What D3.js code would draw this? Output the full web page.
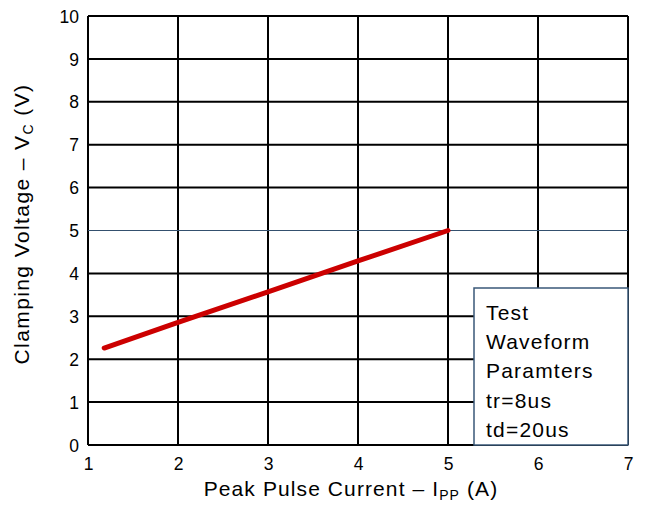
<!DOCTYPE html>
<html>
<head>
<meta charset="utf-8">
<script src="https://cdn.jsdelivr.net/npm/d3@7"></script>
<style>
  html, body { margin: 0; padding: 0; background: #fff; }
  svg { display: block; font-family: "Liberation Sans", Arial, sans-serif; }
</style>
</head>
<body>
<svg id="chart" width="646" height="507"></svg>
<script>
// Clamping voltage vs peak pulse current
const currentA = [1.18, 2, 3, 4, 5];
const clampV = [2.26, 2.86, 3.57, 4.29, 5.0];
const xTicks = [1, 2, 3, 4, 5, 6, 7];
const yTicks = [0, 1, 2, 3, 4, 5, 6, 7, 8, 9, 10];
const highlightV = 5;
const noteLines = ["Test", "Waveform", "Paramters", "tr=8us", "td=20us"];

const svg = d3.select("#chart");
const m = { left: 88, right: 628, top: 16, bottom: 445 };

const x = d3.scaleLinear().domain([1, 7]).range([m.left, m.right]);
const y = d3.scaleLinear().domain([0, 10]).range([m.bottom, m.top]);

// grid
const grid = svg.append("g");
grid.selectAll("line.v").data(xTicks).join("line")
  .attr("x1", d => x(d)).attr("x2", d => x(d))
  .attr("y1", m.top).attr("y2", m.bottom)
  .attr("stroke", "#000").attr("stroke-width", 2);
grid.selectAll("line.h").data(yTicks.filter(d => d !== highlightV)).join("line")
  .attr("x1", m.left).attr("x2", m.right)
  .attr("y1", d => y(d)).attr("y2", d => y(d))
  .attr("stroke", "#000").attr("stroke-width", 2);
grid.append("line")
  .attr("x1", m.left).attr("x2", m.right)
  .attr("y1", y(highlightV)).attr("y2", y(highlightV))
  .attr("stroke", "#34506e").attr("stroke-width", 1.2);

// axes (labels only)
const xAxis = svg.append("g")
  .attr("transform", `translate(0,${m.bottom})`)
  .call(d3.axisBottom(x).tickValues(xTicks).tickFormat(d3.format("d")).tickSize(0).tickPadding(12));
const yAxis = svg.append("g")
  .attr("transform", `translate(${m.left},0)`)
  .call(d3.axisLeft(y).tickValues(yTicks).tickFormat(d3.format("d")).tickSize(0).tickPadding(9));
[xAxis, yAxis].forEach(a => {
  a.attr("font-size", null).attr("font-family", null);
  a.select(".domain").remove();
  a.selectAll("text").style("font-size", "17.5px").attr("fill", "#000");
});
yAxis.selectAll("text").attr("dy", "0.35em");
xAxis.selectAll("text").attr("dy", "0.75em");

// data line
svg.append("path")
  .datum(currentA.map((c, i) => [c, clampV[i]]))
  .attr("fill", "none")
  .attr("stroke", "#cc0000")
  .attr("stroke-width", 5)
  .attr("stroke-linecap", "round")
  .attr("d", d3.line().x(d => x(d[0])).y(d => y(d[1])));

// note box
const box = svg.append("g");
box.append("rect")
  .attr("x", 474).attr("y", 288).attr("width", 154).attr("height", 157)
  .attr("fill", "#fff").attr("stroke", "#3a5878").attr("stroke-width", 1.5);
box.selectAll("text").data(noteLines).join("text")
  .attr("x", 486).attr("y", (d, i) => 320 + i * 29.2)
  .style("font-size", "21px").style("letter-spacing", "1.2px").attr("fill", "#000")
  .text(d => d);

// axis titles
const xt = svg.append("text")
  .attr("x", 351).attr("y", 496)
  .attr("text-anchor", "middle").style("font-size", "21px")
  .style("letter-spacing", "1.1px").attr("fill", "#000");
xt.append("tspan").text("Peak Pulse Current \u2013 I");
xt.append("tspan").style("font-size", "14px").attr("dy", 4).text("PP");
xt.append("tspan").attr("dy", -4).text(" (A)");

const yt = svg.append("text")
  .attr("transform", "translate(29,224) rotate(-90)")
  .attr("text-anchor", "middle").style("font-size", "21px")
  .style("letter-spacing", "1.4px").attr("fill", "#000");
yt.append("tspan").text("Clamping Voltage \u2013 V");
yt.append("tspan").style("font-size", "14px").attr("dy", 4).text("C");
yt.append("tspan").attr("dy", -4).text(" (V)");
</script>
</body>
</html>
